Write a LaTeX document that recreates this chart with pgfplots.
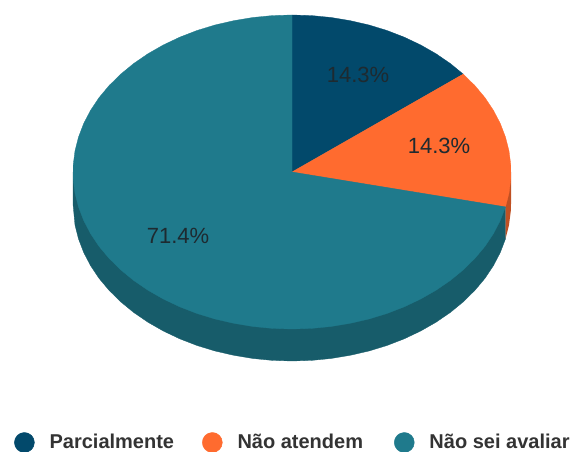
\documentclass[border=0pt]{standalone}
\usepackage{pgfplots}
\pgfplotsset{compat=1.18}
\usepackage{fontspec}
\setmainfont{Liberation Sans}
\definecolor{navy}{HTML}{02496B}
\definecolor{org}{HTML}{FF6B2F}
\definecolor{teal2}{HTML}{1F7A8C}
\definecolor{tealdark}{HTML}{175C6A}
\definecolor{orgdark}{HTML}{BF5023}
\definecolor{lbl}{HTML}{1E2A30}
\begin{document}
\begin{tikzpicture}
\useasboundingbox (0,0) rectangle (571pt,452pt);
\begin{axis}[
  at={(0,0)}, anchor=south west,
  scale only axis, width=571pt, height=452pt,
  xmin=-292, xmax=279, ymin=-280, ymax=172,
  hide axis, clip=false,
  legend columns=3,
  legend cell align=left,
  legend style={draw=none, fill=none, at={(axis cs:-278,-270.5)}, anchor=west,
    inner xsep=0pt, inner ysep=0pt,
    font=\fontsize{20}{22}\selectfont\bfseries\color{black!80},
    /tikz/every even column/.style={column sep=0pt}},
]
% wall of the third slice
\addplot[fill=tealdark, draw=tealdark, line width=0.3pt, forget plot] coordinates {
(0,0)(213.5,-34.9)(213.5,-66.9)(208.3,-80.5)(201.4,-93.7)(192.9,-106.4)(182.8,-118.5)(171.2,-129.9)
(158.4,-140.4)(144.1,-150.2)(128.7,-159)(112.3,-166.8)(95,-173.5)(77,-179)(58.3,-183.3)(39.1,-186.5)
(19.6,-188.4)(0,-189)(-19.6,-188.4)(-39.1,-186.5)(-58.3,-183.3)(-77,-179)(-95,-173.5)(-112.3,-166.8)
(-128.7,-159)(-144.1,-150.2)(-158.4,-140.4)(-171.2,-129.9)(-182.8,-118.5)(-192.9,-106.4)(-201.4,-93.7)
(-208.3,-80.5)(-213.5,-66.9)(-217,-53.1)(-219,-32)(-219,0)} --cycle;
% wall of the second slice
\addplot[fill=orgdark, draw=none, forget plot] coordinates {
(0,0)(219,0)(219,-32)(218.8,-39)(217,-53.1)(213.5,-66.9)(213.5,-34.9)} --cycle;
% Parcialmente 14.3
\addplot[fill=navy, draw=navy, line width=0.3pt, forget plot] coordinates {
(0,0)(0,157)(19.6,156.4)(39.1,154.5)(58.3,151.3)(77,147)(95,141.5)(112.3,134.8)(128.7,127)(144.1,118.2)(158.4,108.4)(171.2,97.9)} --cycle;
% Nao atendem 14.3
\addplot[fill=org, draw=org, line width=0.3pt, forget plot] coordinates {
(0,0)(171.2,97.9)(182.8,86.5)(192.9,74.4)(201.4,61.7)(208.3,48.5)(213.5,34.9)(217,21.1)(218.8,7)(218.8,-7)(217,-21.1)(213.5,-34.9)} --cycle;
% Nao sei avaliar 71.4
\addplot[fill=teal2, draw=teal2, line width=0.3pt, forget plot] coordinates {
(0,0)(213.5,-34.9)(208.3,-48.5)(201.4,-61.7)(192.9,-74.4)(182.8,-86.5)(171.2,-97.9)(158.4,-108.4)(144.1,-118.2)
(128.7,-127)(112.3,-134.8)(95,-141.5)(77,-147)(58.3,-151.3)(39.1,-154.5)(19.6,-156.4)(0,-157)
(-19.6,-156.4)(-39.1,-154.5)(-58.3,-151.3)(-77,-147)(-95,-141.5)(-112.3,-134.8)(-128.7,-127)(-144.1,-118.2)
(-158.4,-108.4)(-171.2,-97.9)(-182.8,-86.5)(-192.9,-74.4)(-201.4,-61.7)(-208.3,-48.5)(-213.5,-34.9)(-217,-21.1)
(-218.8,-7)(-218.8,7)(-217,21.1)(-213.5,34.9)(-208.3,48.5)(-201.4,61.7)(-192.9,74.4)(-182.8,86.5)(-171.2,97.9)
(-158.4,108.4)(-144.1,118.2)(-128.7,127)(-112.3,134.8)(-95,141.5)(-77,147)(-58.3,151.3)(-39.1,154.5)(-19.6,156.4)(0,157)} --cycle;
\node[font=\fontsize{22}{24}\selectfont, text=lbl] at (axis cs:66,97) {14.3\%};
\node[font=\fontsize{22}{24}\selectfont, text=lbl] at (axis cs:147,26) {14.3\%};
\node[font=\fontsize{22}{24}\selectfont, text=lbl] at (axis cs:-114,-64) {71.4\%};
\addlegendimage{legend image code/.code={\fill[navy] (0,0) circle (10pt); \path (-10pt,0) (23pt,0);}}
\addlegendentry{Parcialmente\rule{26pt}{0pt}}
\addlegendimage{legend image code/.code={\fill[org] (0,0) circle (10pt); \path (-10pt,0) (23pt,0);}}
\addlegendentry{Não atendem\rule{29pt}{0pt}}
\addlegendimage{legend image code/.code={\fill[teal2] (0,0) circle (10pt); \path (-10pt,0) (23pt,0);}}
\addlegendentry{Não sei avaliar}
\end{axis}
\end{tikzpicture}
\end{document}
